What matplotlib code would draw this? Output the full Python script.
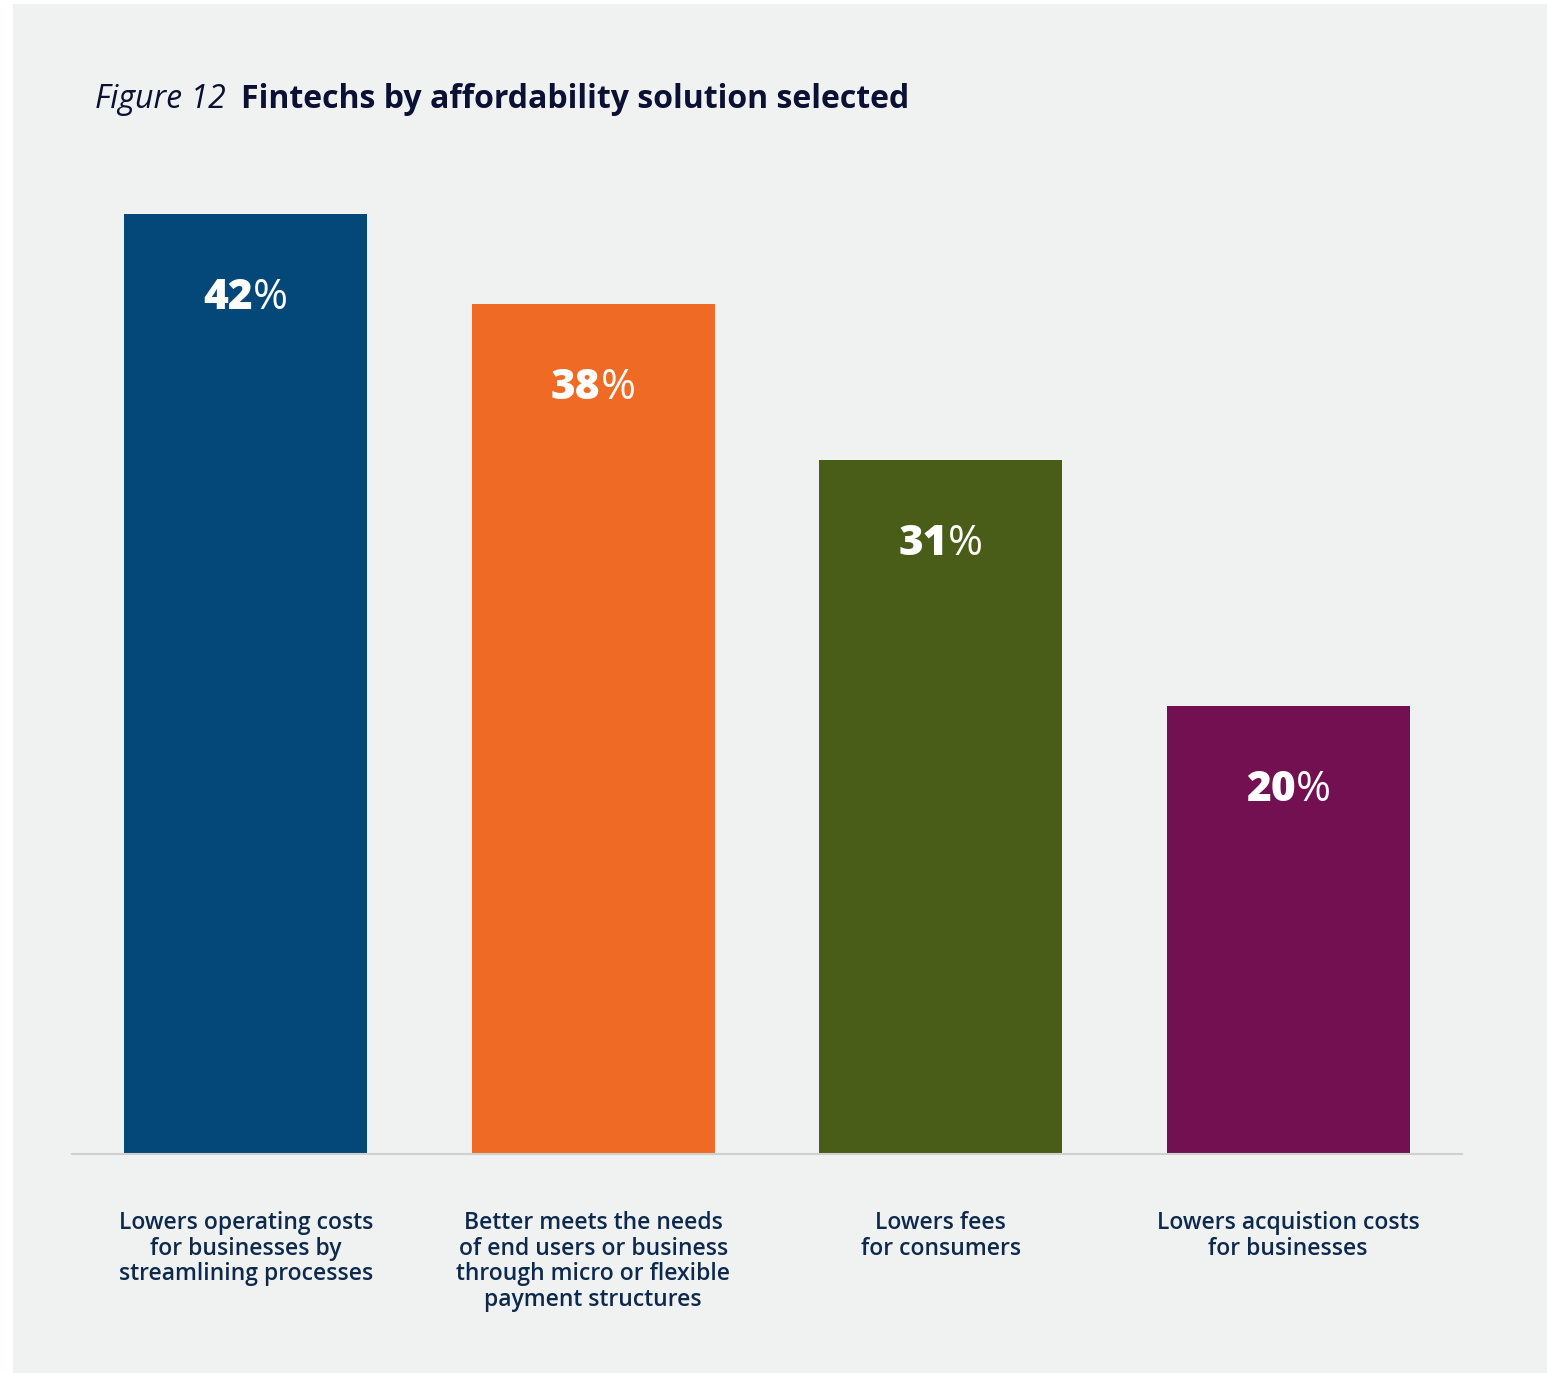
import matplotlib
matplotlib.use("Agg")
import matplotlib.pyplot as plt
from matplotlib.patches import Rectangle
from matplotlib.transforms import offset_copy

categories = [
    "Lowers operating costs\nfor businesses by\nstreamlining processes",
    "Better meets the needs\nof end users or business\nthrough micro or flexible\npayment structures",
    "Lowers fees\nfor consumers",
    "Lowers acquistion costs\nfor businesses",
]
values = [42, 38, 31, 20]
colors = ["#034878", "#ef6b25", "#4a5d18", "#721052"]

W, H = 1547, 1373
DPI = 100
fig = plt.figure(figsize=(W / DPI, H / DPI), dpi=DPI)
fig.patch.set_facecolor("white")
fig.patches.append(Rectangle((13 / W, 0), (W - 13) / W, (H - 4) / H,
                             transform=fig.transFigure, facecolor="#f0f1f1",
                             edgecolor="none", zorder=-5))

FONT = "Open Sans"
TXT = "#0d2a4e"

# axes: x from 72 to 1462 px, baseline at 1154 px
ax_left, ax_right = 72, 1462
base_y = 1154
px_per_unit = 22.38
ymax = 44
ax_top = base_y - ymax * px_per_unit
ax = fig.add_axes([ax_left / W, 1 - base_y / H, (ax_right - ax_left) / W,
                   (base_y - ax_top) / H])
ax.set_facecolor("none")
ax.set_zorder(2)
x = list(range(len(values)))
ax.bar(x, values, width=0.70, color=colors, zorder=2)
ax.set_xlim(-0.5, 3.5)
ax.set_ylim(0, ymax)
for s in ["top", "right", "left"]:
    ax.spines[s].set_visible(False)
ax.spines["bottom"].set_color("#cfd0d0")
ax.spines["bottom"].set_linewidth(1.5)
ax.set_yticks([])
ax.set_xticks(x)
ax.set_xticklabels(categories, fontfamily=FONT, fontweight="semibold",
                   fontsize=16.5, color=TXT, linespacing=1.09, va="top")
ax.tick_params(axis="x", length=0, pad=41)

fig.canvas.draw()
r = fig.canvas.get_renderer()

# value labels: bold number + regular %
for xi, v in zip(x, values):
    num = ax.text(xi, v, f"{v}", fontfamily=FONT, fontweight=800,
                  fontsize=30.5, color="white", ha="left", va="baseline", zorder=5)
    pct = ax.text(xi, v, "%", fontfamily=FONT, fontweight="normal",
                  fontsize=30.5, color="white", ha="left", va="baseline", zorder=5)
    wn = num.get_window_extent(r).width
    wp = pct.get_window_extent(r).width
    tot = wn + wp
    dy = -95 * 72 / DPI
    num.set_transform(offset_copy(ax.transData, fig=fig, x=-tot / 2 * 72 / DPI,
                                  y=dy, units="points"))
    pct.set_transform(offset_copy(ax.transData, fig=fig,
                                  x=(-tot / 2 + wn) * 72 / DPI, y=dy,
                                  units="points"))

# title
TCOL = "#0b1035"
t1 = fig.text(95 / W, 1 - 108 / H, "Figure 12", fontfamily=FONT, style="italic",
              fontsize=23, color=TCOL, ha="left", va="baseline")
w1 = t1.get_window_extent(r).width
fig.text((95 + w1 + 15) / W, 1 - 108 / H,
         "Fintechs by affordability solution selected", fontfamily=FONT,
         fontweight="bold", fontsize=23.05, color=TCOL, ha="left", va="baseline")

fig.savefig("out.png", dpi=DPI, facecolor=fig.get_facecolor())
